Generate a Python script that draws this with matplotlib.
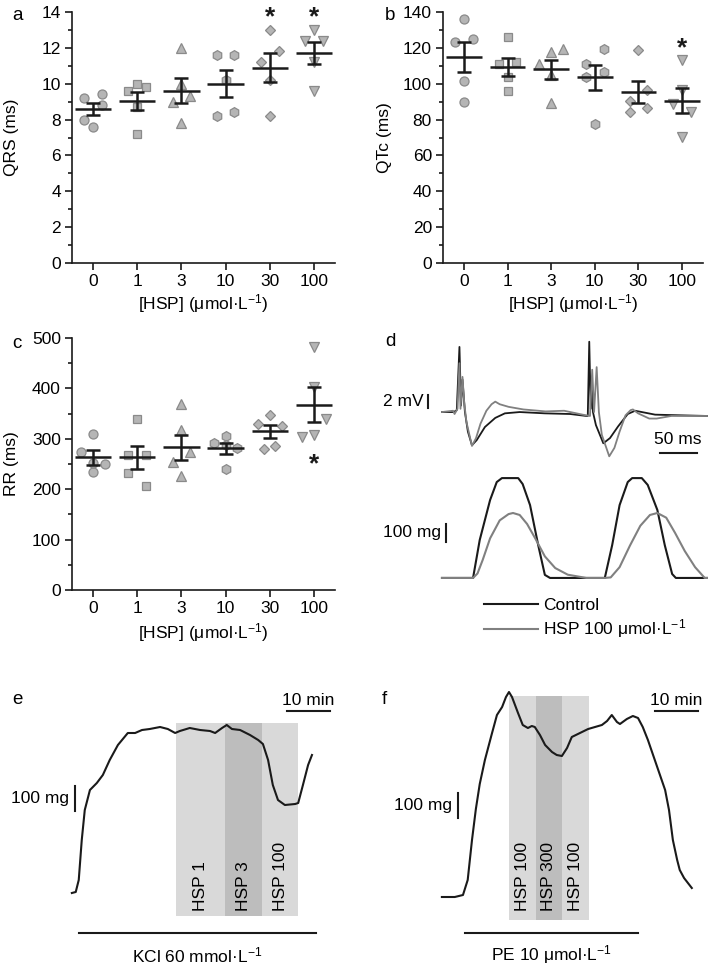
import numpy as np
import matplotlib
matplotlib.use('Agg')
import matplotlib.pyplot as plt
from matplotlib.lines import Line2D
from matplotlib.ticker import MultipleLocator

plt.rcParams['font.family'] = ['Liberation Sans', 'DejaVu Sans']
plt.rcParams['mathtext.fontset'] = 'custom'
plt.rcParams['mathtext.rm'] = 'Liberation Sans'
plt.rcParams['mathtext.it'] = 'Liberation Sans:italic'
plt.rcParams['font.size'] = 12.5

# ---- data ----
doses = ['0', '1', '3', '10', '30', '100']

# QRS (ms), 5 animals per dose
qrs_vals = [[8.0, 7.6, 9.2, 9.4, 8.8],
            [9.6, 10.0, 9.8, 8.7, 7.2],
            [12.0, 9.0, 9.3, 10.0, 7.8],
            [11.6, 11.6, 10.2, 8.2, 8.4],
            [13.0, 11.8, 11.2, 10.2, 8.2],
            [12.4, 12.4, 13.0, 11.2, 9.6]]
qrs_mean = [8.6, 9.05, 9.6, 10.0, 10.9, 11.7]
qrs_sem = [0.35, 0.5, 0.7, 0.75, 0.8, 0.6]
qrs_sig = [4, 5]

# QTc (ms)
qtc_vals = [[136, 123.5, 125, 101.5, 90],
            [126, 111, 112, 103.5, 96],
            [117.5, 119.5, 111, 105, 89],
            [119.5, 111, 106.5, 104, 77.5],
            [119, 90.5, 96.5, 84.5, 86.5],
            [113, 96.5, 88.5, 84, 70.5]]
qtc_mean = [115, 109.5, 108, 103.5, 95.5, 90.5]
qtc_sem = [8.5, 5, 5.5, 7, 6, 7]
qtc_sig = [5]

# RR (ms)
rr_vals = [[309, 273, 250, 234, 251],
           [340, 268, 268, 233, 207],
           [369, 318, 273, 254, 227],
           [291, 305, 282, 240, 288],
           [348, 330, 326, 280, 286],
           [483, 403, 339, 303, 308]]
rr_mean = [263, 263, 283, 281, 315, 368]
rr_sem = [14, 23, 25, 11, 13, 35]
rr_sig = [5]

# ECG traces (ms, mV)
ecg_ctrl_t = [0, 16, 20, 23.6, 25.7, 27.7, 31, 35, 40.5, 47, 58, 72, 85, 105, 139, 173, 195,
              197, 199, 201, 202.7, 204, 208, 218, 227, 238, 251, 261, 288, 322, 358]
ecg_ctrl_v = [0, 0, 0.3, 10.0, 1.0, 5.0, 0, -3.0, -5.1, -4.3, -2.3, -0.9, -0.2, 0, -0.2, -0.3, -0.6,
              -0.6, 10.8, 0.5, 5.0, 0, -2.0, -4.8, -4.0, -2.2, -0.3, 0.2, -0.4, -0.5, -0.6]
ecg_hsp_t = [0, 15, 17, 21, 23.6, 25, 27.7, 30, 33, 40.5, 46, 52, 60, 67, 72, 78, 90, 110, 140,
             165, 190, 200, 203, 205.5, 209, 212, 216, 226, 233, 240, 248, 255, 258, 265, 280,
             290, 310, 358]
ecg_hsp_v = [0, 0.2, -0.3, 0.5, 7.5, 0.5, 5.4, 1.5, -1.5, -5.2, -4.0, -1.8, 0.2, 1.2, 1.6, 1.2,
             0.8, 0.4, 0.1, 0.2, -0.4, -0.6, 6.5, 0, 6.9, 0, -3.5, -6.8, -5.5, -3.0, -0.5, 0.3,
             0.4, -0.2, -1.0, -1.0, -0.6, -0.6]

# contraction force (ms, mg)
force_ctrl_t = [0, 42, 51, 65, 74, 81, 103, 109, 119, 130, 139, 146, 220, 230, 240, 251, 257,
                270, 278, 291, 301, 311, 316, 358]
force_ctrl_v = [0, 0, 211, 433, 533, 555, 555, 522, 405, 183, 17, 0, 0, 183, 405, 533, 555,
                555, 517, 378, 183, 22, 0, 0]
force_hsp_t = [0, 42, 48, 55, 65, 78, 90, 96, 105, 115, 126, 139, 153, 170, 195, 220, 228, 240,
               254, 268, 281, 291, 303, 315, 328, 342, 355, 358]
force_hsp_v = [0, 0, 25, 100, 220, 320, 355, 361, 350, 300, 220, 120, 55, 18, 0, 0, 3, 60,
               180, 290, 350, 361, 335, 250, 150, 60, 0, 0]

# aortic tension, KCl (min, mg)
kcl_t = [0, 0.9, 1.6, 2.3, 3.0, 4.2, 5.8, 7.2, 8.8, 10.7, 13.0, 14.7, 16.3, 18.1, 20.5, 22.3,
         24.0, 25.1, 27.4, 29.8, 32.1, 33.3, 34.9, 36.0, 37.2, 39.1, 41.4, 43.3, 44.4, 45.6,
         46.7, 47.9, 49.5, 51.9, 52.6, 53.7, 54.9, 55.8]
kcl_v = [0, 4, 52, 212, 332, 412, 440, 472, 532, 592, 640, 640, 652, 656, 664, 656, 640, 648,
         660, 652, 648, 640, 660, 672, 656, 652, 632, 612, 596, 532, 432, 372, 352, 356, 360,
         432, 512, 552]
kcl_bands = [(24.2, 35.6, 'HSP 1'), (35.6, 44.2, 'HSP 3'), (44.2, 52.6, 'HSP 100')]

# aortic tension, PE (min, mg)
pe_t = [0, 3.0, 4.9, 6.0, 7.0, 7.9, 8.8, 10.0, 11.6, 12.8, 14.0, 14.9, 15.6, 16.3, 17.7, 18.8,
        20.0, 20.9, 21.6, 22.8, 24.0, 25.6, 26.7, 27.9, 29.1, 30.2, 32.1, 34.0, 35.6, 37.2,
        38.4, 39.5, 40.7, 41.4, 43.0, 44.4, 45.6, 46.7, 47.9, 49.5, 50.7, 51.9, 52.8, 53.7,
        54.7, 55.3, 56.3, 57.2, 58.1]
pe_v = [0, 0, 8, 68, 228, 352, 452, 548, 652, 728, 760, 800, 820, 800, 736, 688, 676, 684, 680,
        648, 608, 580, 568, 564, 596, 640, 656, 672, 680, 688, 704, 728, 700, 692, 712, 724,
        716, 680, 628, 548, 488, 428, 348, 228, 148, 108, 76, 56, 36]
pe_bands = [(15.6, 21.9, 'HSP 100'), (21.9, 27.9, 'HSP 300'), (27.9, 34.2, 'HSP 100')]

# ---- style ----
W, H = 709, 968
dark = '#1a1a1a'
gray_line = '#808080'
mfill, medge = '#b5b5b5', '#8a8a8a'
markers = ['o', 's', '^', 'h', 'D', 'v']
msizes = [6.5, 6, 7, 7, 5.5, 7]
offsets_qrs = [[-0.2, 0, -0.2, 0.2, 0.2], [-0.2, 0, 0.2, 0, 0], [0, -0.2, 0.2, 0, 0],
               [-0.2, 0.2, 0, -0.2, 0.2], [0, 0.2, -0.2, 0, 0], [-0.2, 0.2, 0, 0, 0]]
offsets_qtc = [[0, -0.2, 0.2, 0, 0], [0, -0.2, 0.2, 0, 0], [0, 0.27, -0.27, 0, 0],
               [0.2, -0.2, 0.2, -0.2, 0], [0, -0.2, 0.2, -0.2, 0.2], [0, 0, -0.2, 0.2, 0]]
offsets_rr = [[0, -0.27, 0.27, 0, 0], [0, -0.2, 0.2, -0.2, 0.2], [0, 0, 0.2, -0.2, 0],
              [-0.27, 0, 0.27, 0, 0], [0, -0.27, 0.27, -0.14, 0.13], [0, 0, 0.27, -0.27, 0]]

fig = plt.figure(figsize=(W / 100, H / 100), dpi=100)


def px_axes(x0, y0, x1, y1):
    return fig.add_axes([x0 / W, 1 - y1 / H, (x1 - x0) / W, (y1 - y0) / H])


def scatter_panel(ax, vals, offs, means, sems, ymax, major, ylabel, sig, star_y, ylab_x):
    for i in range(len(doses)):
        ax.plot(i + np.array(offs[i]), vals[i], linestyle='none', marker=markers[i],
                ms=msizes[i], mfc=mfill, mec=medge, mew=0.9, zorder=2, clip_on=False)
    x = np.arange(len(doses))
    ax.hlines(means, x - 0.41, x + 0.41, color=dark, lw=1.8, zorder=3)
    ax.errorbar(x, means, yerr=sems, fmt='none', ecolor=dark, elinewidth=1.8,
                capsize=5, capthick=1.8, zorder=3)
    # asterisks placed by baseline so the glyph sits where the reference has it
    for i in sig:
        ax.text(i, star_y, '*', ha='center', va='baseline', fontsize=19,
                fontweight='bold', color=dark, clip_on=False)
    ax.set_xlim(-0.48, 5.48)
    ax.set_ylim(0, ymax)
    ax.set_xticks(x)
    ax.set_xticklabels(doses)
    ax.yaxis.set_major_locator(MultipleLocator(major))
    ax.yaxis.set_minor_locator(MultipleLocator(major / 2))
    for s in ['top', 'right']:
        ax.spines[s].set_visible(False)
    for s in ['left', 'bottom']:
        ax.spines[s].set_linewidth(1.2)
        ax.spines[s].set_color(dark)
    ax.tick_params(which='major', direction='out', length=5, width=1.2, color=dark, pad=3)
    ax.tick_params(which='minor', direction='out', length=3, width=1.2, color=dark)
    ax.set_ylabel(ylabel)
    ax.yaxis.set_label_coords(ylab_x, 0.5)
    ax.set_xlabel('[HSP] (μmol·L$^{-1}$)')
    ax.xaxis.label.set_va('center')
    ax.xaxis.set_label_coords(0.5, -0.16)


ax_a = px_axes(72, 12, 335, 263)
scatter_panel(ax_a, qrs_vals, offsets_qrs, qrs_mean, qrs_sem, 14, 2, 'QRS (ms)', qrs_sig, 13.3, -0.2)

ax_b = px_axes(443, 12, 703, 263)
scatter_panel(ax_b, qtc_vals, offsets_qtc, qtc_mean, qtc_sem, 140, 20, 'QTc (ms)', qtc_sig, 116, -0.196)

ax_c = px_axes(72, 338, 335, 590)
scatter_panel(ax_c, rr_vals, offsets_rr, rr_mean, rr_sem, 500, 100, 'RR (ms)', rr_sig, 236, -0.2)
ax_c.xaxis.set_label_coords(0.5, -0.17)

# ---- panel d: ECG and force ----
ax_ecg = px_axes(420, 330, 709, 470)
ax_ecg.plot(ecg_ctrl_t, ecg_ctrl_v, color=dark, lw=1.3)
ax_ecg.plot(ecg_hsp_t, ecg_hsp_v, color=gray_line, lw=1.3)
ax_ecg.set_xlim(-29.7, 360.8)
ax_ecg.set_ylim(-8.9, 12.6)
ax_ecg.axis('off')
ax_ecg.plot([-19, -19], [0.6, 2.6], color=dark, lw=1.5, clip_on=False)
ax_ecg.text(-25, 1.6, '2 mV', ha='right', va='center')
ax_ecg.plot([294, 344], [-6.3, -6.3], color=dark, lw=1.5, clip_on=False)
ax_ecg.text(319, -5.4, '50 ms', ha='center', va='bottom')

ax_f = px_axes(420, 470, 709, 590)
ax_f.plot(force_ctrl_t, force_ctrl_v, color=dark, lw=1.5)
ax_f.plot(force_hsp_t, force_hsp_v, color=gray_line, lw=1.5)
ax_f.set_xlim(-29.7, 360.8)
ax_f.set_ylim(-67, 600)
ax_f.axis('off')
ax_f.plot([5.4, 5.4], [200, 300], color=dark, lw=1.5, clip_on=False)
ax_f.text(-1.5, 250, '100 mg', ha='right', va='center')

handles = [Line2D([], [], color=dark, lw=1.5), Line2D([], [], color=gray_line, lw=1.5)]
fig.legend(handles, ['Control', 'HSP 100 μmol·L$^{-1}$'], loc='upper left',
           bbox_to_anchor=(484 / W, 1 - 598 / H), frameon=False, borderpad=0,
           borderaxespad=0, handlelength=3.1, handletextpad=0.3, labelspacing=0.25)


# ---- panels e, f: aortic rings ----
def tension_panel(ax, t, v, bands, band_top, label_y, scale_t, scale_y, bar_t, drug, drug_y):
    for (t0, t1, name), c in zip(bands, ['#d9d9d9', '#bdbdbd', '#d9d9d9']):
        ax.fill_between([t0, t1], -90, band_top, color=c, lw=0, zorder=1)
        ax.text((t0 + t1) / 2, label_y, name, rotation=90, ha='center', va='bottom', zorder=3)
    ax.plot(t, v, color=dark, lw=1.5, zorder=2)
    ax.plot([scale_t[0], scale_t[0] + 10], [scale_y, scale_y], color=dark, lw=1.5)
    ax.text(scale_t[0] + 5, scale_y + 12, '10 min', ha='center', va='bottom')
    ax.plot([bar_t, bar_t], [scale_t[1], scale_t[1] + 100], color=dark, lw=1.5)
    ax.text(bar_t - 1.3, scale_t[1] + 50, '100 mg', ha='right', va='center')
    ax.plot(drug[1:3], [drug_y, drug_y], color=dark, lw=1.5)
    ax.text(sum(drug[1:3]) / 2, drug_y - 88, drug[0], ha='center', va='center')
    ax.axis('off')


kcl_drug = ('KCl 60 mmol·L$^{-1}$', 1.6, 56.7)
pe_drug = ('PE 10 μmol·L$^{-1}$', 5.3, 45.6)

ax_e = px_axes(0, 680, 355, 968)
ax_e.set_xlim(-16.7, 65.8)
ax_e.set_ylim(-300, 852)
tension_panel(ax_e, kcl_t, kcl_v, kcl_bands, 680, -72, (50, 330), 728, 0.7, kcl_drug, -160)

ax_pe = px_axes(355, 680, 709, 968)
ax_pe.set_xlim(-20.2, 62.1)
ax_pe.set_ylim(-284, 868)
tension_panel(ax_pe, pe_t, pe_v, pe_bands, 804, -56, (49.5, 316), 744, 3.7, pe_drug, -144)

# panel letters
for lab, x, y in [('a', 12, 16), ('b', 385, 16), ('c', 12, 343), ('d', 385, 342),
                  ('e', 12, 700), ('f', 382, 700)]:
    fig.text(x / W, 1 - y / H, lab, fontsize=13.5, ha='left', va='center')

fig.savefig('out.png', dpi=100)
